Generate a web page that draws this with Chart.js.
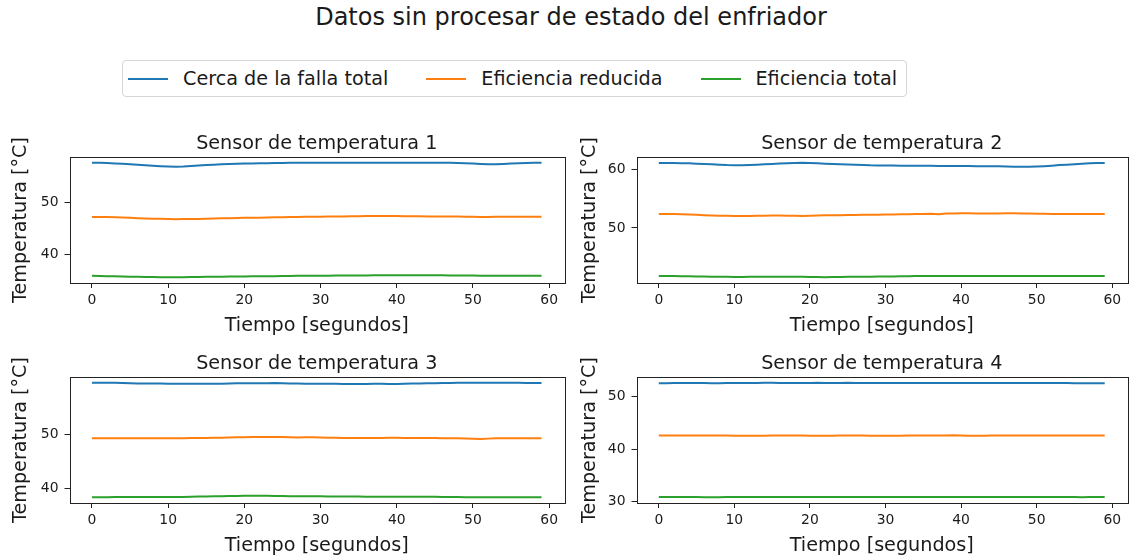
<!DOCTYPE html>
<html>
<head>
<meta charset="utf-8">
<script src="https://cdn.jsdelivr.net/npm/chart.js@4.4.1/dist/chart.umd.min.js"></script>
<style>
  html, body { margin: 0; padding: 0; background: #fff; width: 1130px; height: 558px; overflow: hidden;
               font-family: "DejaVu Sans", sans-serif; color: #1a1a1a; }
  #titulo { position: absolute; left: 0; top: 4px; width: 1142px; text-align: center;
            font-size: 24px; line-height: 26px; white-space: nowrap; }
  #leyenda { position: absolute; left: 122px; top: 60px; width: 783px; height: 35px;
             border: 1px solid #d6d6d6; border-radius: 4px; display: flex; align-items: center;
             font-size: 19.2px; white-space: nowrap; }
  .item { display: flex; align-items: center; flex: none; margin-left: 5px; margin-right: 33px; }
  .linea { width: 40px; height: 2px; margin-right: 15px; flex: none; }
  canvas { position: absolute; }
</style>
</head>
<body>
<div id="titulo">Datos sin procesar de estado del enfriador</div>
<div id="leyenda"></div>
<canvas id="c1"></canvas>
<canvas id="c2"></canvas>
<canvas id="c3"></canvas>
<canvas id="c4"></canvas>
<script>
// Tiempo de muestreo (segundos)
const segundos = [
  0, 1, 2, 3, 4, 5, 6, 7, 8, 9,
  10, 11, 12, 13, 14, 15, 16, 17, 18, 19,
  20, 21, 22, 23, 24, 25, 26, 27, 28, 29,
  30, 31, 32, 33, 34, 35, 36, 37, 38, 39,
  40, 41, 42, 43, 44, 45, 46, 47, 48, 49,
  50, 51, 52, 53, 54, 55, 56, 57, 58, 59
];

const estados = ['Cerca de la falla total', 'Eficiencia reducida', 'Eficiencia total'];
const coloresEstado = ['#1f77b4', '#ff7f0e', '#2ca02c'];
const titulosSensor = ['Sensor de temperatura 1', 'Sensor de temperatura 2',
                       'Sensor de temperatura 3', 'Sensor de temperatura 4'];

const xTicks = [0, 10, 20, 30, 40, 50, 60];
const yTicks1 = [40, 50];
const yTicks2 = [50, 60];
const yTicks3 = [40, 50];
const yTicks4 = [30, 40, 50];

// Sensor de temperatura 1
const s1Falla = [
  57.70, 57.70, 57.66, 57.60, 57.52, 57.42, 57.32, 57.22, 57.14, 57.06,
  57.00, 56.96, 57.00, 57.08, 57.18, 57.28, 57.36, 57.44, 57.50, 57.55,
  57.58, 57.60, 57.62, 57.64, 57.66, 57.68, 57.70, 57.72, 57.70, 57.70,
  57.72, 57.72, 57.70, 57.70, 57.72, 57.72, 57.70, 57.70, 57.72, 57.72,
  57.70, 57.70, 57.72, 57.72, 57.70, 57.70, 57.72, 57.70, 57.68, 57.64,
  57.56, 57.50, 57.45, 57.45, 57.50, 57.58, 57.64, 57.68, 57.70, 57.70
];
const s1Reducida = [
  47.25, 47.25, 47.22, 47.20, 47.15, 47.10, 47.02, 46.96, 46.92, 46.90,
  46.86, 46.82, 46.84, 46.86, 46.88, 46.90, 46.94, 46.98, 47.02, 47.05,
  47.08, 47.10, 47.12, 47.15, 47.18, 47.20, 47.22, 47.25, 47.27, 47.28,
  47.30, 47.32, 47.34, 47.35, 47.38, 47.40, 47.42, 47.44, 47.45, 47.44,
  47.42, 47.40, 47.38, 47.37, 47.36, 47.35, 47.35, 47.34, 47.32, 47.30,
  47.28, 47.26, 47.26, 47.27, 47.28, 47.30, 47.30, 47.30, 47.30, 47.30
];
const s1Total = [
  35.88, 35.86, 35.82, 35.80, 35.76, 35.72, 35.70, 35.66, 35.64, 35.62,
  35.60, 35.60, 35.62, 35.64, 35.66, 35.68, 35.70, 35.72, 35.74, 35.75,
  35.76, 35.78, 35.80, 35.81, 35.82, 35.84, 35.86, 35.88, 35.89, 35.90,
  35.90, 35.91, 35.92, 35.93, 35.94, 35.95, 35.96, 35.97, 35.98, 36.00,
  36.00, 36.00, 36.00, 36.00, 35.99, 35.98, 35.97, 35.96, 35.95, 35.94,
  35.92, 35.90, 35.89, 35.89, 35.90, 35.90, 35.90, 35.90, 35.90, 35.90
];

// Sensor de temperatura 2
const s2Falla = [
  61.15, 61.15, 61.15, 61.12, 61.10, 61.05, 61.00, 60.94, 60.86, 60.80,
  60.78, 60.78, 60.82, 60.88, 60.95, 61.00, 61.06, 61.12, 61.16, 61.20,
  61.18, 61.12, 61.05, 61.00, 60.95, 60.90, 60.85, 60.80, 60.76, 60.75,
  60.75, 60.72, 60.70, 60.70, 60.70, 60.69, 60.68, 60.66, 60.65, 60.65,
  60.65, 60.63, 60.62, 60.60, 60.60, 60.58, 60.55, 60.52, 60.50, 60.50,
  60.55, 60.62, 60.70, 60.80, 60.88, 60.96, 61.05, 61.10, 61.14, 61.15
];
const s2Reducida = [
  52.40, 52.40, 52.38, 52.35, 52.30, 52.25, 52.20, 52.15, 52.10, 52.08,
  52.05, 52.05, 52.07, 52.10, 52.10, 52.12, 52.12, 52.10, 52.08, 52.04,
  52.10, 52.15, 52.18, 52.20, 52.20, 52.22, 52.22, 52.25, 52.25, 52.28,
  52.30, 52.32, 52.35, 52.36, 52.38, 52.40, 52.42, 52.34, 52.46, 52.50,
  52.52, 52.52, 52.50, 52.50, 52.50, 52.50, 52.51, 52.52, 52.50, 52.48,
  52.45, 52.42, 52.40, 52.40, 52.40, 52.40, 52.40, 52.40, 52.40, 52.40
];
const s2Total = [
  41.75, 41.74, 41.72, 41.70, 41.68, 41.66, 41.65, 41.63, 41.62, 41.60,
  41.58, 41.58, 41.60, 41.60, 41.60, 41.61, 41.61, 41.60, 41.60, 41.60,
  41.58, 41.55, 41.52, 41.55, 41.58, 41.60, 41.61, 41.62, 41.63, 41.64,
  41.65, 41.66, 41.68, 41.70, 41.72, 41.74, 41.75, 41.76, 41.76, 41.76,
  41.76, 41.76, 41.76, 41.76, 41.75, 41.75, 41.75, 41.75, 41.76, 41.76,
  41.75, 41.74, 41.73, 41.72, 41.72, 41.72, 41.72, 41.72, 41.72, 41.72
];

// Sensor de temperatura 3
const s3Falla = [
  59.40, 59.40, 59.40, 59.38, 59.35, 59.30, 59.28, 59.26, 59.25, 59.25,
  59.23, 59.22, 59.22, 59.22, 59.22, 59.22, 59.22, 59.24, 59.27, 59.30,
  59.30, 59.31, 59.32, 59.33, 59.34, 59.30, 59.27, 59.25, 59.23, 59.22,
  59.20, 59.20, 59.20, 59.18, 59.18, 59.18, 59.19, 59.20, 59.20, 59.18,
  59.19, 59.22, 59.25, 59.28, 59.30, 59.32, 59.35, 59.37, 59.39, 59.40,
  59.40, 59.40, 59.40, 59.40, 59.40, 59.39, 59.38, 59.37, 59.36, 59.35
];
const s3Reducida = [
  49.25, 49.25, 49.25, 49.25, 49.24, 49.24, 49.25, 49.25, 49.25, 49.25,
  49.25, 49.25, 49.26, 49.28, 49.29, 49.30, 49.32, 49.35, 49.39, 49.42,
  49.45, 49.47, 49.49, 49.50, 49.50, 49.48, 49.42, 49.38, 49.45, 49.42,
  49.38, 49.35, 49.33, 49.31, 49.30, 49.28, 49.28, 49.29, 49.30, 49.32,
  49.32, 49.30, 49.29, 49.28, 49.28, 49.28, 49.27, 49.27, 49.25, 49.20,
  49.15, 49.10, 49.18, 49.24, 49.25, 49.25, 49.25, 49.25, 49.25, 49.25
];
const s3Total = [
  38.45, 38.45, 38.46, 38.48, 38.50, 38.52, 38.52, 38.51, 38.50, 38.48,
  38.48, 38.50, 38.52, 38.55, 38.58, 38.60, 38.62, 38.65, 38.68, 38.70,
  38.71, 38.72, 38.72, 38.72, 38.70, 38.68, 38.66, 38.65, 38.65, 38.64,
  38.62, 38.61, 38.60, 38.60, 38.59, 38.58, 38.56, 38.55, 38.55, 38.55,
  38.55, 38.55, 38.55, 38.55, 38.55, 38.54, 38.52, 38.50, 38.48, 38.46,
  38.45, 38.45, 38.45, 38.45, 38.45, 38.45, 38.45, 38.45, 38.45, 38.45
];

// Sensor de temperatura 4
const s4Falla = [
  52.58, 52.58, 52.60, 52.60, 52.62, 52.60, 52.60, 52.58, 52.58, 52.60,
  52.60, 52.62, 52.62, 52.62, 52.65, 52.65, 52.62, 52.60, 52.60, 52.60,
  52.62, 52.65, 52.62, 52.60, 52.62, 52.65, 52.62, 52.60, 52.60, 52.60,
  52.60, 52.60, 52.62, 52.62, 52.60, 52.60, 52.60, 52.60, 52.60, 52.60,
  52.62, 52.62, 52.60, 52.60, 52.60, 52.60, 52.60, 52.60, 52.60, 52.62,
  52.62, 52.60, 52.60, 52.60, 52.60, 52.58, 52.58, 52.58, 52.58, 52.58
];
const s4Reducida = [
  42.62, 42.62, 42.62, 42.62, 42.62, 42.62, 42.62, 42.62, 42.62, 42.60,
  42.58, 42.55, 42.55, 42.55, 42.58, 42.60, 42.62, 42.62, 42.62, 42.60,
  42.58, 42.58, 42.58, 42.58, 42.60, 42.62, 42.62, 42.60, 42.58, 42.56,
  42.55, 42.55, 42.58, 42.60, 42.62, 42.62, 42.62, 42.62, 42.62, 42.65,
  42.62, 42.58, 42.55, 42.58, 42.60, 42.62, 42.62, 42.62, 42.62, 42.62,
  42.62, 42.62, 42.62, 42.62, 42.62, 42.62, 42.62, 42.62, 42.62, 42.62
];
const s4Total = [
  30.92, 30.92, 30.92, 30.90, 30.88, 30.88, 30.86, 30.85, 30.86, 30.88,
  30.90, 30.92, 30.92, 30.92, 30.92, 30.92, 30.92, 30.92, 30.92, 30.92,
  30.90, 30.90, 30.90, 30.88, 30.88, 30.90, 30.90, 30.90, 30.92, 30.92,
  30.92, 30.92, 30.92, 30.92, 30.92, 30.92, 30.92, 30.92, 30.92, 30.92,
  30.92, 30.92, 30.92, 30.92, 30.92, 30.92, 30.92, 30.92, 30.92, 30.92,
  30.92, 30.92, 30.90, 30.90, 30.90, 30.88, 30.86, 30.88, 30.90, 30.90
];

// ---- Leyenda común ----
const leyenda = document.getElementById('leyenda');
estados.forEach((nombre, i) => {
  const item = document.createElement('div');
  item.className = 'item';
  const linea = document.createElement('span');
  linea.className = 'linea';
  linea.style.background = coloresEstado[i];
  const texto = document.createElement('span');
  texto.textContent = nombre;
  item.appendChild(linea);
  item.appendChild(texto);
  leyenda.appendChild(item);
});

// ---- Paneles ----
const FUENTE = '"DejaVu Sans", sans-serif';
const TINTA = '#1a1a1a';
const TAM_TITULO = 19.2;
const TAM_TICK = 13.9;

// límites con 5 % de margen, como los ejes automáticos de matplotlib
function margen(valores) {
  const lo = Math.min(...valores), hi = Math.max(...valores);
  const d = (hi - lo) * 0.05;
  return [lo - d, hi + d];
}
const [xMin, xMax] = margen(segundos);

// marco completo alrededor del área de trazado
const marco = {
  id: 'marco',
  afterDraw(chart) {
    const { ctx, chartArea: a } = chart;
    ctx.save();
    ctx.strokeStyle = '#222';
    ctx.lineWidth = 1;
    ctx.strokeRect(Math.round(a.left) + 0.5, Math.round(a.top) + 0.5,
                   Math.round(a.right - a.left), Math.round(a.bottom - a.top));
    ctx.restore();
  }
};

const paneles = [
  { id: 'c1', titulo: titulosSensor[0], series: [s1Falla, s1Reducida, s1Total], yTicks: yTicks1,
    box: { left: 0, top: 120, width: 575, height: 220 }, yAncho: 69.5, derecha: 11, xAlto: 57, xPad: 2.5, yPad: 9 },
  { id: 'c2', titulo: titulosSensor[1], series: [s2Falla, s2Reducida, s2Total], yTicks: yTicks2,
    box: { left: 570, top: 120, width: 560, height: 220 }, yAncho: 66.5, derecha: 3, xAlto: 57, xPad: 2.5, yPad: 8 },
  { id: 'c3', titulo: titulosSensor[2], series: [s3Falla, s3Reducida, s3Total], yTicks: yTicks3,
    box: { left: 0, top: 340, width: 575, height: 218 }, yAncho: 69.5, derecha: 11, xAlto: 55, xPad: 0, yPad: 9 },
  { id: 'c4', titulo: titulosSensor[3], series: [s4Falla, s4Reducida, s4Total], yTicks: yTicks4,
    box: { left: 570, top: 340, width: 560, height: 218 }, yAncho: 66.5, derecha: 3, xAlto: 55, xPad: 0, yPad: 8 }
];

paneles.forEach(p => {
  const cv = document.getElementById(p.id);
  cv.width = p.box.width;
  cv.height = p.box.height;
  cv.style.left = p.box.left + 'px';
  cv.style.top = p.box.top + 'px';
  cv.style.width = p.box.width + 'px';
  cv.style.height = p.box.height + 'px';

  const [yMin, yMax] = margen([].concat(...p.series));

  new Chart(cv, {
    type: 'line',
    data: {
      datasets: p.series.map((vals, i) => ({
        label: estados[i],
        data: segundos.map((t, k) => ({ x: t, y: vals[k] })),
        borderColor: coloresEstado[i],
        backgroundColor: coloresEstado[i],
        borderWidth: 2,
        pointRadius: 0,
        tension: 0,
        fill: false
      }))
    },
    options: {
      responsive: false,
      animation: false,
      devicePixelRatio: 1,
      layout: { padding: { left: 0, right: p.derecha, top: 0, bottom: 0 } },
      plugins: {
        legend: { display: false },
        tooltip: { enabled: false },
        title: {
          display: true, text: p.titulo, color: TINTA, fullSize: false,
          font: { family: FUENTE, size: TAM_TITULO, weight: 'normal', lineHeight: 1.2 },
          padding: { top: 12, bottom: 2 }
        }
      },
      scales: {
        x: {
          type: 'linear', min: xMin, max: xMax,
          afterBuildTicks: s => { s.ticks = xTicks.map(v => ({ value: v })); },
          afterFit: s => { s.height = p.xAlto; s.paddingLeft = 0; s.paddingRight = 0; },
          grid: { drawOnChartArea: false, drawTicks: true, tickLength: 5, tickColor: '#222', tickWidth: 1 },
          border: { display: false },
          ticks: { color: TINTA, font: { family: FUENTE, size: TAM_TICK }, padding: 4, maxRotation: 0, autoSkip: false },
          title: { display: true, text: 'Tiempo [segundos]', color: TINTA,
                   font: { family: FUENTE, size: TAM_TITULO, lineHeight: 1.2 }, padding: { top: 0, bottom: p.xPad } }
        },
        y: {
          type: 'linear', min: yMin, max: yMax,
          afterBuildTicks: s => { s.ticks = p.yTicks.map(v => ({ value: v })); },
          afterFit: s => { s.width = p.yAncho; s.paddingTop = 0; s.paddingBottom = 0; },
          grid: { drawOnChartArea: false, drawTicks: true, tickLength: 5, tickColor: '#222', tickWidth: 1 },
          border: { display: false },
          ticks: { color: TINTA, font: { family: FUENTE, size: TAM_TICK }, padding: 6 },
          title: { display: true, text: 'Temperatura [°C]', color: TINTA,
                   font: { family: FUENTE, size: TAM_TITULO, lineHeight: 1.2 }, padding: { top: p.yPad, bottom: 0 } }
        }
      }
    },
    plugins: [marco]
  });
});
</script>
</body>
</html>
